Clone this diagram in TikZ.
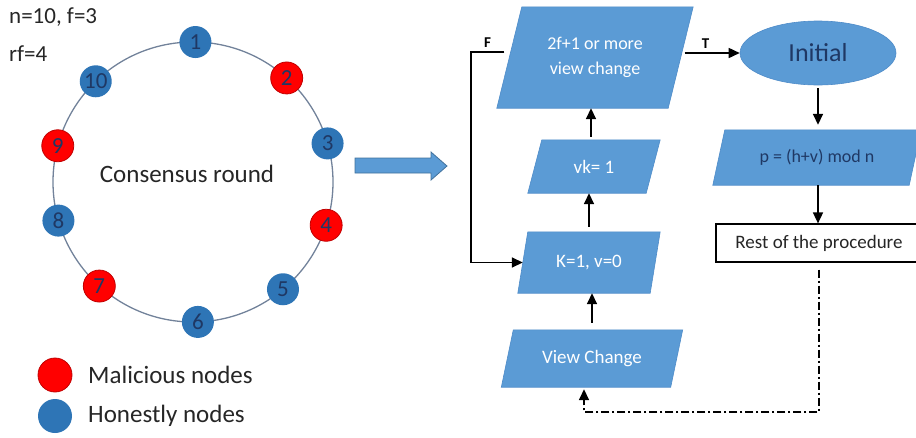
\documentclass[tikz,border=0pt]{standalone}
\usepackage{fontspec}
\setmainfont{Carlito}
\usetikzlibrary{arrows.meta,calc,shapes.geometric}
\pgfdeclarelayer{bg}
\pgfsetlayers{bg,main}
\definecolor{boxblue}{HTML}{5B9BD5}
\definecolor{boxedge}{HTML}{4F8CC9}
\definecolor{honest}{HTML}{2E75B6}
\definecolor{malic}{HTML}{FF0000}
\definecolor{malicedge}{HTML}{C00000}
\definecolor{navy}{HTML}{1F3864}
\definecolor{ringgray}{HTML}{72829A}
\definecolor{ink}{HTML}{262626}
\definecolor{arrowedge}{HTML}{41719C}
\newcommand\sz[1]{\fontsize{#1}{#1}\selectfont}
% fill a parallelogram behind a node: top edge shifted right, bottom edge left
\newcommand\slantfill[2]{\fill[boxblue, draw=boxedge, line width=0.6pt]
  ([xshift=#2]#1.north west) -- ([xshift=#2]#1.north east) --
  ([xshift=-#2]#1.south east) -- ([xshift=-#2]#1.south west) -- cycle;}
\begin{document}
\begin{tikzpicture}[x=1pt,y=-1pt,
  flow/.style={inner sep=0pt, text=white, font=\sz{19}, align=center},
  ringnode/.style={circle, minimum size=32pt, inner sep=0pt, font=\sz{23}, text=navy},
  honestnode/.style={ringnode, fill=honest},
  malnode/.style={ringnode, fill=malic, draw=malicedge, line width=0.8pt},
  arr/.style={line width=1.6pt, -{Triangle[length=11pt,width=10pt]}},
  dd/.style={line width=1.3pt, dash pattern=on 8pt off 3pt on 2pt off 3pt},
  lbl/.style={font=\bfseries\sz{15}, text=black, inner sep=1pt},
  plain/.style={font=\sz{23}, text=ink, inner sep=0pt}]
\useasboundingbox (0,0) rectangle (916,437);
\clip (0,0) rectangle (916,437);

% ---- consensus ring ----
\node[plain, anchor=west] (params) at (9,17) {n=10, f=3};
\node[plain, anchor=west] (rf) at (9,54) {rf=4};
\coordinate (c) at (193,182);
\draw[ringgray, line width=1.3pt] (c) circle[radius=140pt];
\node[plain, font=\sz{25}] (round) at (187,174) {Consensus round};
\foreach \i/\a/\s in {1/89/honestnode, 2/48/malnode, 3/16/honestnode,
    4/-18/malnode, 5/-50/honestnode, 6/-88/honestnode, 7/-132/malnode,
    8/-164/honestnode, 9/165/malnode, 10/134/honestnode}
  \node[\s] (n\i) at ($(c)+(\a:140pt)$) {\i};

% ---- legend ----
\node[ringnode, minimum size=34pt, fill=malic, draw=malicedge, line width=0.8pt] (legm) at (55,375) {};
\node[ringnode, minimum size=34pt, fill=honest] (legh) at (55,416) {};
\node[plain, font=\sz{25}, anchor=west] (legmt) at (88,375) {Malicious nodes};
\node[plain, font=\sz{25}, anchor=west] (leght) at (88,416) {Honestly nodes};

% ---- block arrow ----
\filldraw[fill=boxblue, draw=arrowedge, line width=0.8pt]
  (355,158) -- (431,158) -- (431,152) -- (447,166) -- (431,180) -- (431,173) -- (355,173) -- cycle;

% ---- flowchart ----
\node[flow, minimum width=171pt, minimum height=101pt, font=\fontsize{18}{25}\selectfont] (cond) at (595,57.5) {2f+1 or more\\view change};
\node[flow, minimum width=118pt, minimum height=53pt] (vk) at (594,166.5) {vk= 1};
\node[flow, minimum width=132pt, minimum height=61pt] (k) at (589,262.5) {K=1, v=0};
\node[flow, minimum width=169pt, minimum height=57pt] (vc) at (592,358.5) {View Change};
\node[flow, minimum width=196pt, minimum height=55pt, text=navy, font=\sz{18}] (p) at (817,157.5) {p = (h+v) mod n};
\node[draw=black, line width=1.2pt, fill=white, minimum width=206pt, minimum height=38pt,
      inner sep=0pt, font=\sz{19}, text=ink] (rest) at (819,243) {Rest of the procedure};
\node[ellipse, fill=boxblue, draw=boxedge, line width=0.6pt, minimum width=156pt, minimum height=64pt,
      inner sep=0pt, font=\sz{26}, text=navy] (init) at (818,53) {Initial};

\begin{pgfonlayer}{bg}
  \slantfill{cond}{12.5pt}
  \slantfill{vk}{7pt}
  \slantfill{k}{5pt}
  \slantfill{vc}{6pt}
  \slantfill{p}{6pt}
\end{pgfonlayer}

\draw[arr, shorten <=7pt] (vc.north) -- (vc.north |- k.south);
\draw[arr, shorten <=5pt] (k.north) -- (k.north |- vk.south);
\draw[arr, shorten <=3pt] ([xshift=-3pt]vk.north) -- ([xshift=-3pt]vk.north |- cond.south);
\draw[arr, shorten <=4pt] (cond.east |- init.west) -- (init.west)
  node[lbl, pos=0.42, above=3pt] {T};
\coordinate (fturn) at (471,52);
\draw[arr] ([xshift=-5pt]cond.west |- fturn) -- (fturn)
  node[lbl, pos=0.5, above=3pt] {F} |- (k.west);
\draw[arr, shorten <=3pt, shorten >=5pt] (init.south) -- (init.south |- p.north);
\draw[arr] (init.south |- p.south) -- (init.south |- rest.north);
\coordinate (vcb) at (584,412);
\draw[dd, arr, shorten >=2pt] ([yshift=-7pt]rest.south) |- (vcb) -- (vcb |- vc.south);
\end{tikzpicture}
\end{document}
